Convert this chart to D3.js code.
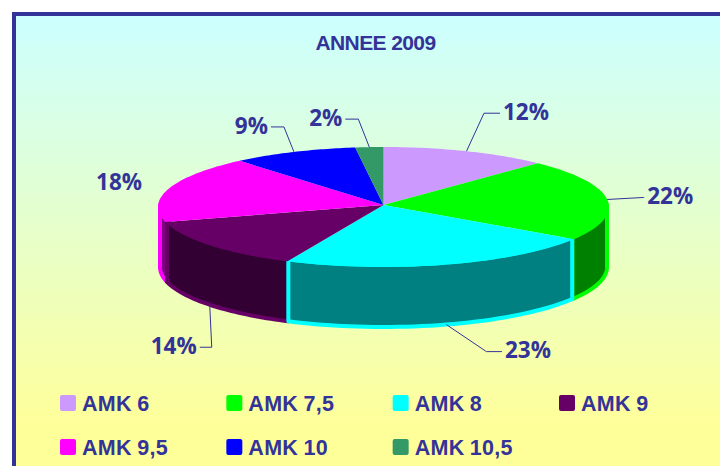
<!DOCTYPE html>
<html lang="fr">
    <head>
        <meta charset="UTF-8">
        <title>ANNEE 2009</title>
        <script src="https://d3js.org/d3.v7.min.js"></script>
        <style>
            body { margin: 0; padding: 0; background: #fff; overflow: hidden; }
            svg { display: block; }
        </style>
    </head>
    <body>
        <svg id="chart" width="720" height="466"></svg>

        <script>
            const title = "ANNEE 2009";
            const categories = ["AMK 6", "AMK 7,5", "AMK 8", "AMK 9", "AMK 9,5", "AMK 10", "AMK 10,5"];
            const values = [12, 22, 23, 14, 18, 9, 2];
            const topColors = ["#cc99ff", "#00ff00", "#00ffff", "#660066", "#ff00ff", "#0000ff", "#339966"];
            const wallColors = ["#664c80", "#008000", "#008080", "#330033", "#800080", "#000080", "#1a4d33"];

            const ink = "#333399";
            const cx = 383.5, cy = 207, apexY = 205, rx = 225.5, ry = 60, depth = 60;

            // label offsets from the rim anchor, elbow first then text
            const leaders = [
                {elbow: [17.5, -38], text: [36.5, -39], anchor: "start"},
                {elbow: [36, -2], text: [40, -3], anchor: "start"},
                {elbow: [40, 27], text: [58.5, 26], anchor: "start"},
                {elbow: [2, 42], text: [-13, 41], anchor: "end"},
                {elbow: null, text: [-27, -6], anchor: "end"},
                {elbow: [-10, -25], text: [-26, -26], anchor: "end"},
                {elbow: [-11, -28], text: [-27, -29], anchor: "end"}
            ];

            const svg = d3.select("#chart");

            // gradient is full yellow a bit above the bottom of the picture
            const defs = svg.append("defs");
            const grad = defs.append("linearGradient")
                .attr("id", "bg")
                .attr("gradientUnits", "userSpaceOnUse")
                .attr("x1", 0).attr("y1", 16).attr("x2", 0).attr("y2", 430);
            grad.append("stop").attr("offset", "0%").attr("stop-color", "#ccffff");
            grad.append("stop").attr("offset", "100%").attr("stop-color", "#ffff99");

            svg.append("rect")
                .attr("x", 14).attr("y", 14)
                .attr("width", 720).attr("height", 470)
                .attr("fill", "url(#bg)")
                .attr("stroke", ink)
                .attr("stroke-width", 4);

            svg.append("text")
                .attr("x", 375.5).attr("y", 50)
                .attr("text-anchor", "middle")
                .attr("font-family", "Liberation Sans")
                .attr("font-weight", "bold")
                .attr("font-size", 21)
                .attr("letter-spacing", -0.6)
                .attr("fill", ink)
                .text(title);

            // pie angles, flattened to an ellipse through two linear scales
            const arcs = d3.pie().sort(null)(values);
            const px = d3.scaleLinear().domain([-1, 1]).range([cx - rx, cx + rx]);
            const py = d3.scaleLinear().domain([-1, 1]).range([cy - ry, cy + ry]);
            const line = d3.line();

            const rim = (a, drop = 0, inset = 0) => [px(Math.sin(a) * (rx - inset) / rx), py(-Math.cos(a)) + drop];
            const steps = (a0, a1) => d3.range(0, 41).map(i => a0 + (a1 - a0) * i / 40);

            const wallFrom = Math.PI / 2, wallTo = 3 * Math.PI / 2;

            // front walls first, back to front by distance from the bottom of the ellipse
            const front = arcs
                .map((d, i) => ({i, a0: Math.max(d.startAngle, wallFrom), a1: Math.min(d.endAngle, wallTo)}))
                .filter(d => d.a1 > d.a0)
                .sort((a, b) => Math.abs((b.a0 + b.a1) / 2 - Math.PI) - Math.abs((a.a0 + a.a1) / 2 - Math.PI));

            // top edge of the wall sits under the top face, so its stroke stays hidden
            svg.append("g").selectAll("path")
                .data(front)
                .join("path")
                .attr("d", d => {
                    const top = steps(d.a0, d.a1).map(a => rim(a, -2, 2));
                    const bottom = steps(d.a1, d.a0).map(a => rim(a, depth, 2));
                    return line(top.concat(bottom)) + "Z";
                })
                .attr("fill", d => wallColors[d.i])
                .attr("stroke", d => topColors[d.i])
                .attr("stroke-width", 4)
                .attr("stroke-linejoin", "round");

            svg.append("g").selectAll("path")
                .data(arcs)
                .join("path")
                .attr("d", d => line([[cx, apexY]].concat(steps(d.startAngle, d.endAngle).map(a => rim(a)))) + "Z")
                .attr("fill", (d, i) => topColors[i]);

            // leader lines and percent labels
            const labels = svg.append("g");
            arcs.forEach((d, i) => {
                const mid = (d.startAngle + d.endAngle) / 2;
                const onFront = mid > wallFrom && mid < wallTo && i !== 1;
                const p = rim(mid, onFront ? depth : 0);
                const lead = leaders[i];
                if (lead.elbow) {
                    const elbow = [p[0] + lead.elbow[0], p[1] + lead.elbow[1]];
                    const tail = [p[0] + lead.text[0] - (lead.anchor === "start" ? 3 : -3), elbow[1]];
                    labels.append("path")
                        .attr("d", line([p, elbow, tail]))
                        .attr("fill", "none")
                        .attr("stroke", ink)
                        .attr("stroke-width", 1);
                }
                labels.append("text")
                    .attr("x", p[0] + lead.text[0])
                    .attr("y", p[1] + lead.text[1])
                    .attr("dy", "0.35em")
                    .attr("text-anchor", lead.anchor)
                    .attr("font-family", "Open Sans")
                    .attr("font-weight", "bold")
                    .attr("font-size", 22.5)
                    .attr("fill", ink)
                    .text(values[i] + "%");
            });

            // legend, four columns on two rows
            const legendX = d3.scaleLinear().domain([0, 3]).range([60, 559]);
            const legendY = d3.scaleLinear().domain([0, 1]).range([403, 447]);
            const legend = svg.append("g").selectAll("g")
                .data(categories)
                .join("g")
                .attr("transform", (d, i) => `translate(${legendX(i % 4)},${legendY(Math.floor(i / 4))})`);

            legend.append("rect")
                .attr("x", 0).attr("y", -8)
                .attr("width", 16).attr("height", 16)
                .attr("rx", 2)
                .attr("fill", (d, i) => topColors[i]);

            legend.append("text")
                .attr("x", 22)
                .attr("y", 0)
                .attr("dy", "0.36em")
                .attr("font-family", "Liberation Sans")
                .attr("font-weight", "bold")
                .attr("font-size", 21.5)
                .attr("word-spacing", -1)
                .attr("letter-spacing", 0.3)
                .attr("fill", ink)
                .text(d => d);
        </script>
    </body>
</html>
